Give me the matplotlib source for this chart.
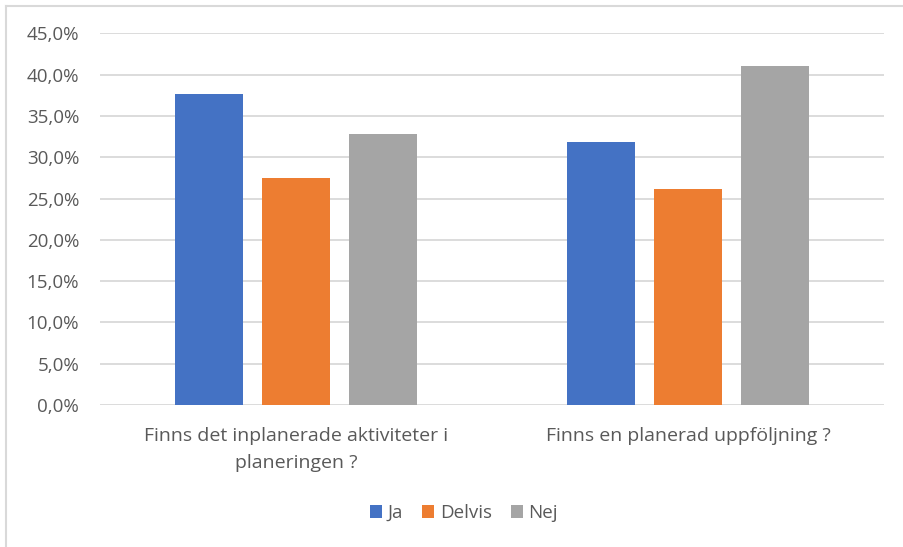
import matplotlib.pyplot as plt
import numpy as np
from matplotlib.ticker import FuncFormatter
from matplotlib.lines import Line2D

plt.rcParams['font.family'] = ['Open Sans', 'DejaVu Sans']

questions = ["Finns det inplanerade aktiviteter i\nplaneringen ?",
             "Finns en planerad uppföljning ?"]
series = ["Ja", "Delvis", "Nej"]
ja = [37.6, 31.9]
delvis = [27.5, 26.1]
nej = [32.8, 41.0]
colors = ["#4472C4", "#ED7D31", "#A5A5A5"]

text_color = "#595959"
grid_color = "#D9D9D9"

fig = plt.figure(figsize=(9.04, 5.47), dpi=100)
ax = fig.add_axes([0.1106, 0.2596, 0.8673, 0.6795])

x = np.arange(len(questions))
step = 0.222
width = 0.1735
for i, (vals, name, c) in enumerate(zip([ja, delvis, nej], series, colors)):
    ax.bar(x + (i - 1) * step, vals, width, color=c, label=name, zorder=3)

ax.set_xlim(-0.5, 1.5)
ax.set_ylim(0, 45)
ax.set_yticks(np.arange(0, 46, 5))
ax.yaxis.set_major_formatter(FuncFormatter(lambda v, p: f"{v:.1f}%".replace(".", ",")))
for t in np.arange(0, 46, 5):
    ax.axhline(t, color=grid_color, lw=1.3, zorder=1)

ax.set_xticks(x)
ax.set_xticklabels(questions, fontsize=14, color=text_color, linespacing=1.65)
ax.tick_params(axis='x', length=0, pad=16)
ax.tick_params(axis='y', length=0, pad=15, labelsize=13.5, labelcolor=text_color)
for s in ax.spines.values():
    s.set_visible(False)

# chart frame (top and left edges only)
fig.add_artist(Line2D([6 / 904, 6 / 904], [0, 1 - 6 / 547], color=grid_color, lw=1.5,
                      transform=fig.transFigure))
fig.add_artist(Line2D([6 / 904, 1], [1 - 6 / 547, 1 - 6 / 547], color=grid_color, lw=1.5,
                      transform=fig.transFigure))

fig.legend(loc='center', bbox_to_anchor=(464 / 904, 1 - 513 / 547), ncol=3, frameon=False,
           fontsize=13.5, labelcolor=text_color, handlelength=0.65, handleheight=0.65,
           handletextpad=0.3, columnspacing=1.0)

fig.savefig("out.png", dpi=100)
